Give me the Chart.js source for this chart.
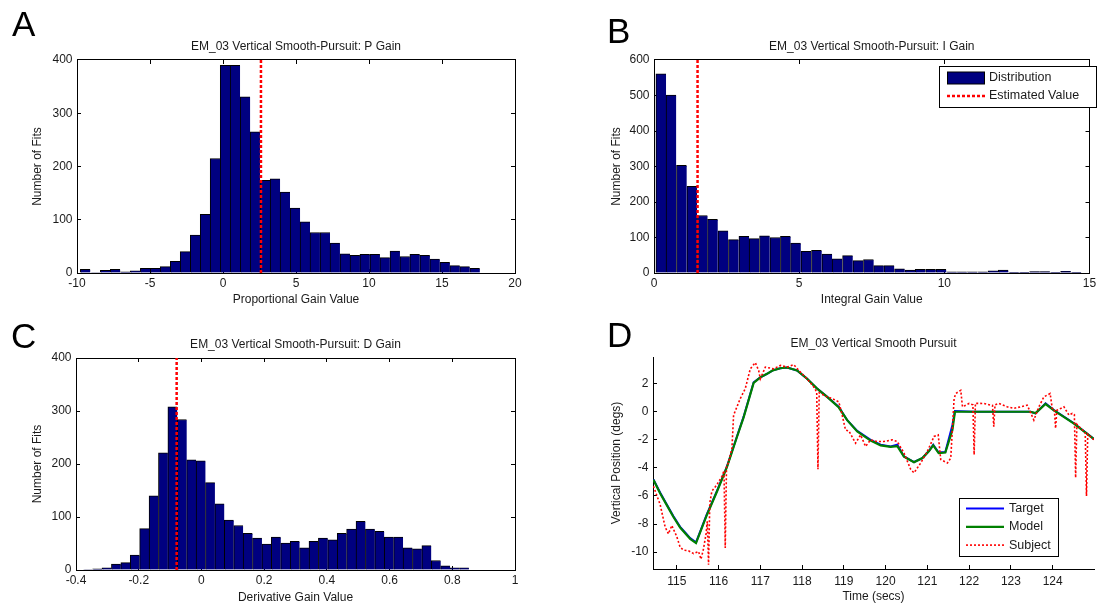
<!DOCTYPE html>
<html>
<head>
<meta charset="utf-8">
<title>EM_03 Vertical Smooth-Pursuit gains</title>
<script src="https://cdn.jsdelivr.net/npm/chart.js@4/dist/chart.umd.min.js"></script>
<style>
  body { margin: 0; background: #fff; }
  #page { position: relative; width: 1104px; height: 607px; overflow: hidden; }
  #page canvas { position: absolute; left: 0; top: 0; }
  .letter { position: absolute; font-family: 'Liberation Sans', Arial, sans-serif; font-size: 35px; line-height: 35px; color: #000; }
</style>
</head>
<body>
<div id="page">
  <canvas id="panelA" width="1104" height="607"></canvas>
  <canvas id="panelB" width="1104" height="607"></canvas>
  <canvas id="panelC" width="1104" height="607"></canvas>
  <canvas id="panelD" width="1104" height="607"></canvas>
  <div class="letter" style="left:12px; top:6px;">A</div>
  <div class="letter" style="left:607px; top:13px;">B</div>
  <div class="letter" style="left:11px; top:318px;">C</div>
  <div class="letter" style="left:607px; top:317px;">D</div>
</div>
<script>
// ---- data ----

// A: proportional gain histogram
var pCenters = [-9.43, -8.74, -8.06, -7.38, -6.69, -6.01, -5.32, -4.64, -3.96, -3.27,
                -2.59, -1.90, -1.22, -0.54, 0.15, 0.83, 1.52, 2.20, 2.88, 3.57,
                4.25, 4.94, 5.62, 6.30, 6.99, 7.67, 8.36, 9.04, 9.72, 10.41,
                11.09, 11.78, 12.46, 13.14, 13.83, 14.51, 15.20, 15.88, 16.56, 17.25];
var pCounts = [7, 1, 5, 7, 2, 4, 9, 9, 12, 22,
               40, 71, 110, 215, 390, 390, 331, 265, 174, 177,
               152, 122, 96, 76, 76, 56, 36, 33, 35, 35,
               29, 41, 31, 35, 33, 26, 20, 14, 12, 9];
var pEstimate = 2.6;

// B: integral gain histogram
var iCenters = [0.24, 0.59, 0.95, 1.31, 1.67, 2.02, 2.38, 2.74, 3.10, 3.45,
                3.81, 4.17, 4.53, 4.88, 5.24, 5.60, 5.96, 6.31, 6.67, 7.03,
                7.39, 7.74, 8.10, 8.46, 8.82, 9.17, 9.53, 9.89, 10.25, 10.60,
                10.96, 11.32, 11.68, 12.03, 12.39, 12.75, 13.11, 13.46, 13.82, 14.18, 14.54];
var iCounts = [561, 501, 303, 244, 162, 151, 119, 94, 103, 97,
               105, 100, 103, 84, 61, 64, 53, 40, 49, 35,
               38, 21, 21, 12, 8, 10, 10, 10, 3, 3,
               3, 3, 6, 8, 2, 2, 4, 4, 1, 5, 1];
var iEstimate = 1.5;

// C: derivative gain histogram
var dCenters = [-0.362, -0.332, -0.302, -0.272, -0.242, -0.212, -0.182, -0.152, -0.122, -0.092,
                -0.062, -0.032, -0.002, 0.028, 0.058, 0.088, 0.118, 0.148, 0.178, 0.208,
                0.238, 0.268, 0.298, 0.328, 0.358, 0.388, 0.418, 0.448, 0.478, 0.508,
                0.538, 0.568, 0.598, 0.628, 0.658, 0.688, 0.718, 0.748, 0.778, 0.808, 0.838];
var dCounts = [1, 2, 4, 11, 14, 28, 78, 140, 221, 308,
               284, 208, 206, 165, 125, 94, 84, 69, 60, 49,
               62, 51, 54, 42, 54, 60, 57, 69, 77, 92,
               77, 73, 62, 62, 42, 40, 46, 18, 8, 4, 4];
var dEstimate = -0.079;

// D: vertical smooth pursuit traces
var traceTimes = [114.44, 114.6, 114.76, 114.92, 115.08, 115.2, 115.32, 115.46, 115.72, 115.96,
                  116.2, 116.44, 116.6, 116.84, 117.0, 117.16, 117.3, 117.48, 117.64, 117.88,
                  118.12, 118.36, 118.6, 118.88, 119.08, 119.32, 119.64, 119.88, 120.12, 120.28,
                  120.44, 120.68, 120.88, 121.04, 121.14, 121.27, 121.43, 121.6, 121.66, 122.11,
                  123.47, 123.59, 123.83, 124.03, 124.51, 124.99];
var targetPos = [-4.82, -5.75, -6.6, -7.45, -8.2, -8.6, -9.0, -9.3, -7.3, -5.65,
                 -3.9, -1.76, -0.35, 2.1, 2.45, 2.7, 2.95, 3.1, 3.15, 2.94,
                 2.35, 1.65, 1.06, 0.35, -0.6, -1.36, -2.0, -2.35, -2.47, -2.35,
                 -3.18, -3.58, -3.3, -2.78, -2.35, -2.9, -2.87, -0.94, 0.05, 0,
                 0, -0.12, 0.6, 0.12, -0.82, -1.95];
var modelPos = [-4.85, -5.8, -6.65, -7.5, -8.25, -8.65, -9.05, -9.35, -7.35, -5.7,
                -3.95, -1.8, -0.4, 2.05, 2.45, 2.7, 2.95, 3.1, 3.15, 2.94,
                2.35, 1.65, 1.06, 0.3, -0.6, -1.4, -2.05, -2.4, -2.5, -2.45,
                -3.2, -3.6, -3.3, -2.8, -2.4, -2.95, -2.9, -1.3, 0.0, 0,
                0, -0.1, 0.55, 0.1, -0.85, -1.95];
var subjectTimes = [114.44, 114.6, 114.72, 114.8, 114.88, 115.0, 115.08, 115.16, 115.28, 115.4,
                    115.52, 115.58, 115.64, 115.7, 115.73, 115.76, 115.79, 115.84, 115.96, 116.08,
                    116.13, 116.16, 116.19, 116.24, 116.32, 116.36, 116.52, 116.64, 116.76, 116.88,
                    116.96, 117.0, 117.12, 117.32, 117.48, 117.64, 117.8, 117.96, 118.12, 118.28,
                    118.35, 118.38, 118.41, 118.6, 118.72, 118.88, 118.96, 119.04, 119.12, 119.28,
                    119.4, 119.52, 119.64, 119.8, 119.96, 120.16, 120.28, 120.44, 120.6, 120.68,
                    120.84, 121.0, 121.16, 121.26, 121.32, 121.48, 121.56, 121.64, 121.68, 121.8,
                    121.84, 122.0, 122.09, 122.12, 122.15, 122.35, 122.51, 122.56, 122.59, 122.62,
                    122.71, 122.91, 123.07, 123.23, 123.39, 123.55, 123.67, 123.79, 123.94, 123.99,
                    124.04, 124.07, 124.1, 124.27, 124.39, 124.47, 124.52, 124.55, 124.58, 124.75,
                    124.78, 124.81, 124.84, 124.99];
var subjectPos = [-5.3, -6.6, -8.2, -8.7, -8.1, -8.9, -9.65, -9.85, -9.9, -10.1,
                  -9.95, -10.5, -9.75, -8.7, -7.8, -10.9, -6.5, -5.65, -5.2, -4.6,
                  -4.2, -9.7, -3.9, -3.6, -2.6, -0.24, 0.94, 1.65, 3.06, 3.5,
                  2.94, 2.35, 3.18, 3.06, 3.3, 3.18, 3.35, 2.82, 2.35, 1.76,
                  1.4, -4.1, 1.35, 1.06, 0.94, 0.7, -0.24, -1.3, -1.36, -2.24,
                  -1.65, -2.47, -2.0, -2.12, -2.12, -2.0, -2.12, -2.94, -4.1, -4.35,
                  -3.65, -2.82, -1.76, -1.65, -3.4, -3.65, -3.3, 0.94, 1.3, 1.53,
                  0.35, 0.59, 0.5, -3.06, 0.6, 0.59, 0.47, 0.45, -1.06, 0.5,
                  0.59, 0.35, 0.24, 0.35, 0.47, -0.59, 0.35, 1.06, 1.3, 0.24,
                  0.2, -1.18, 0.1, 0.35, -0.24, -0.12, -0.2, -4.7, -0.9, -1.4,
                  -1.5, -6.0, -1.6, -2.0];

// ---- styling ----
var FONT = "'Liberation Sans', Arial, Helvetica, sans-serif";
var TXT = '#1a1a1a';
var NAVY = '#000080';
var FS = 12;
var HALF = FS * 1.2 / 2;

// plot boxes in page pixels (all four canvases cover the whole page)
var boxA = { L: 77, R: 515, T: 60, B: 273, titleY: 47, xTitleY: 300, yTitleX: 38, xTickPad: 7.8 };
var boxB = { L: 654, R: 1094, T: 60, B: 273, titleY: 47, xTitleY: 300, yTitleX: 617, xTickPad: 7.8 };
var boxC = { L: 76, R: 515, T: 358, B: 570, titleY: 345, xTitleY: 598, yTitleX: 38, xTickPad: 7.8 };
var boxD = { L: 653, R: 1094, T: 357, B: 569, titleY: 344, xTitleY: 597, yTitleX: 617, xTickPad: 9.8 };

function xy(xs, ys) {
    return xs.map(function (x, i) { return { x: x, y: ys[i] }; });
}

// plain MATLAB-like tick text: 0 not -0.0, 1 not 1.0
function plainTick(value) {
    return String(Number(value.toFixed(3)) + 0);
}

// legend drawn inside the plot, boxed like the original
var boxLegend = {
    id: 'boxLegend',
    afterDraw: function (chart, args, opts) {
        var ctx = chart.ctx;
        ctx.save();
        ctx.fillStyle = '#fff';
        ctx.fillRect(opts.x, opts.y, opts.w, opts.h);
        ctx.strokeStyle = '#000';
        ctx.lineWidth = 1;
        ctx.strokeRect(opts.x + 0.5, opts.y + 0.5, opts.w, opts.h);
        ctx.font = opts.fontSize + 'px ' + FONT;
        ctx.textBaseline = 'middle';
        ctx.textAlign = 'left';
        chart.data.datasets.forEach(function (ds, i) {
            var y = opts.y + opts.first + i * opts.gap;
            var x0 = opts.x + opts.sampleLeft;
            var x1 = x0 + opts.sampleWidth;
            if (ds.type === 'bar') {
                ctx.fillStyle = '#000';
                ctx.fillRect(x0, y - 6.5, x1 - x0, 13);
                ctx.fillStyle = ds.backgroundColor;
                ctx.fillRect(x0 + 1, y - 5.5, x1 - x0 - 2, 11);
            } else {
                ctx.strokeStyle = ds.borderColor;
                ctx.lineWidth = ds.borderWidth;
                ctx.setLineDash(ds.borderDash || []);
                ctx.beginPath();
                ctx.moveTo(x0, y);
                ctx.lineTo(x1, y);
                ctx.stroke();
                ctx.setLineDash([]);
            }
            ctx.fillStyle = TXT;
            ctx.fillText(ds.label, x1 + opts.textGap, y);
        });
        ctx.restore();
    }
};

function tickAxis(position, range) {
    // unlabeled mirror axis for the top/right edge of the box
    var horiz = position === 'top';
    return {
        type: 'linear', position: position, min: range.min, max: range.max, offset: false,
        ticks: { display: false, stepSize: range.step, autoSkip: false, includeBounds: false },
        grid: { drawOnChartArea: false, tickLength: -4, color: '#000', offset: false },
        border: { color: '#000', width: 1 },
        afterFit: function (s) { if (horiz) { s.height = 0; } else { s.width = 0; } }
    };
}

function makeOptions(box, xr, yr, texts, framed) {
    var font = { family: FONT, size: FS };
    var scales = {
        x: {
            type: 'linear', position: 'bottom', min: xr.min, max: xr.max, offset: false,
            ticks: { stepSize: xr.step, autoSkip: false, includeBounds: false, maxRotation: 0,
                     padding: box.xTickPad, color: TXT, font: font, callback: plainTick },
            grid: { drawOnChartArea: false, tickLength: -4, color: '#000', offset: false },
            border: { color: '#000', width: 1 },
            title: { display: true, text: texts.x, color: TXT, font: font,
                     padding: { top: 0, bottom: 607 - box.xTitleY - HALF } },
            afterFit: function (s) { s.height = 607 - box.B; }
        },
        y: {
            type: 'linear', position: 'left', min: yr.min, max: yr.max,
            ticks: { stepSize: yr.step, autoSkip: false, includeBounds: false,
                     padding: 8.5, color: TXT, font: font, callback: plainTick },
            grid: { drawOnChartArea: false, tickLength: -4, color: '#000' },
            border: { color: '#000', width: 1 },
            title: { display: true, text: texts.y, color: TXT, font: font, padding: { top: 0, bottom: 0 } },
            afterFit: function (s) { s.width = box.L - (box.yTitleX - HALF); }
        }
    };
    if (framed) {
        scales.x2 = tickAxis('top', xr);
        scales.y2 = tickAxis('right', yr);
    }
    return {
        responsive: false,
        animation: false,
        events: [],
        layout: { padding: { left: box.yTitleX - HALF, right: 1104 - box.R, top: 0, bottom: 0 } },
        plugins: {
            legend: { display: false },
            tooltip: { enabled: false },
            title: {
                display: true, text: texts.title, fullSize: false, color: TXT,
                font: { family: FONT, size: FS, weight: 'normal' },
                padding: { top: box.titleY - HALF, bottom: box.T - box.titleY - HALF }
            },
            boxLegend: texts.legend || {}
        },
        scales: scales
    };
}

function histogram(id, box, centers, counts, estimate, xr, yr, texts) {
    var cfg = {
        type: 'bar',
        data: {
            datasets: [{
                type: 'bar',
                label: 'Distribution',
                data: xy(centers, counts),
                backgroundColor: NAVY,
                borderColor: '#000',
                borderWidth: { top: 1, left: 1, right: 0, bottom: 0 },
                borderSkipped: false,
                barPercentage: 1,
                categoryPercentage: 1,
                order: 1
            }, {
                type: 'line',
                label: 'Estimated Value',
                data: [{ x: estimate, y: yr.min }, { x: estimate, y: yr.max }],
                borderColor: '#ff0000',
                borderWidth: 2.5,
                borderDash: [3, 2],
                pointRadius: 0,
                fill: false,
                order: 0
            }]
        },
        options: makeOptions(box, xr, yr, texts, true),
        plugins: texts.legend ? [boxLegend] : []
    };
    return new Chart(document.getElementById(id), cfg);
}

histogram('panelA', boxA, pCenters, pCounts, pEstimate,
    { min: -10, max: 20, step: 5 }, { min: 0, max: 400, step: 100 },
    { title: 'EM_03 Vertical Smooth-Pursuit: P Gain', x: 'Proportional Gain Value', y: 'Number of Fits' });

histogram('panelB', boxB, iCenters, iCounts, iEstimate,
    { min: 0, max: 15, step: 5 }, { min: 0, max: 600, step: 100 },
    { title: 'EM_03 Vertical Smooth-Pursuit: I Gain', x: 'Integral Gain Value', y: 'Number of Fits',
      legend: { x: 939, y: 66, w: 157, h: 41, first: 12, gap: 18, sampleLeft: 8, sampleWidth: 38, textGap: 4, fontSize: 12.5 } });

histogram('panelC', boxC, dCenters, dCounts, dEstimate,
    { min: -0.4, max: 1, step: 0.2 }, { min: 0, max: 400, step: 100 },
    { title: 'EM_03 Vertical Smooth-Pursuit: D Gain', x: 'Derivative Gain Value', y: 'Number of Fits' });

new Chart(document.getElementById('panelD'), {
    type: 'line',
    data: {
        datasets: [{
            label: 'Target',
            data: xy(traceTimes, targetPos),
            borderColor: '#0000ff',
            borderWidth: 2,
            pointRadius: 0,
            tension: 0,
            order: 2
        }, {
            label: 'Model',
            data: xy(traceTimes, modelPos),
            borderColor: '#008000',
            borderWidth: 2.2,
            pointRadius: 0,
            tension: 0,
            order: 1
        }, {
            label: 'Subject',
            data: xy(subjectTimes, subjectPos),
            borderColor: '#ff0000',
            borderWidth: 1.6,
            borderDash: [2, 2],
            pointRadius: 0,
            tension: 0,
            order: 0
        }]
    },
    options: makeOptions(boxD, { min: 114.43, max: 124.99, step: 1 }, { min: -11.2, max: 3.9, step: 2 },
        { title: 'EM_03 Vertical Smooth Pursuit', x: 'Time (secs)', y: 'Vertical Position (degs)',
          legend: { x: 959, y: 498, w: 99, h: 58, first: 10.5, gap: 18.3, sampleLeft: 7, sampleWidth: 38, textGap: 5, fontSize: 12.5 } },
        false),
    plugins: [boxLegend]
});
</script>
</body>
</html>
